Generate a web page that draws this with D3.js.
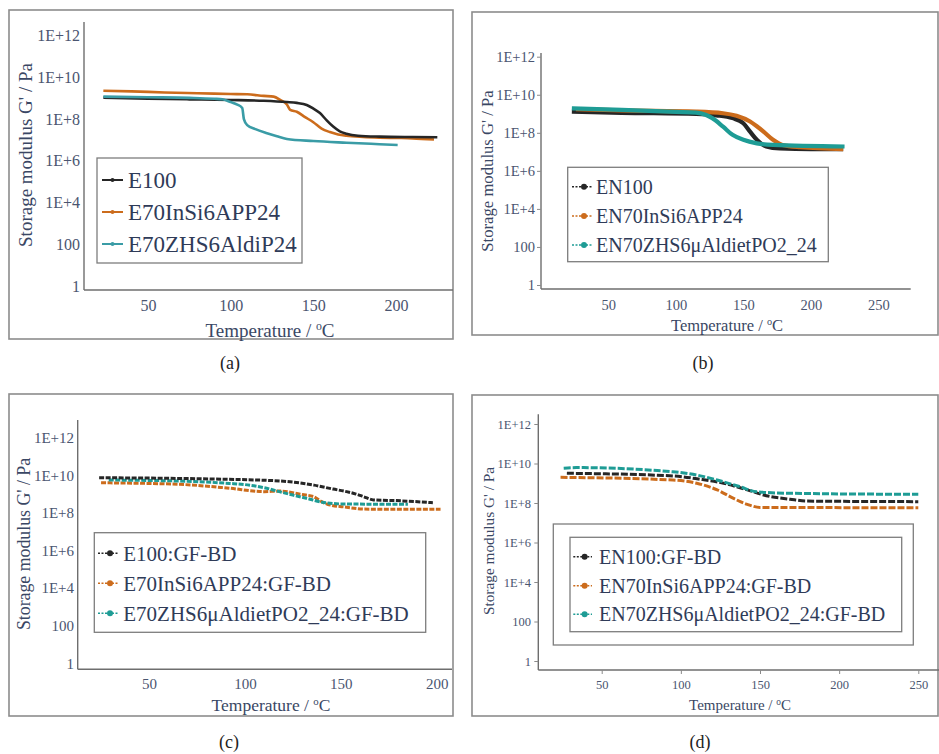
<!DOCTYPE html>
<html><head><meta charset="utf-8">
<script src="https://cdn.jsdelivr.net/npm/d3@7"></script>
<style>body{margin:0;background:#fff}svg{display:block}</style>
</head><body>
<svg id="chart" width="939" height="754"></svg>
<script>
// ---------- DATA ----------
const yTickValues = [1, 100, 1e4, 1e6, 1e8, 1e10, 1e12];
const yTickLabels = ["1", "100", "1E+4", "1E+6", "1E+8", "1E+10", "1E+12"];
const xTicksABC = [50, 100, 150, 200];
const xTicksBD = [50, 100, 150, 200, 250];

// (a)
const aNames = ["E100", "E70InSi6APP24", "E70ZHS6AldiP24"];
const aT_E100 = [23, 50, 75, 100, 120, 134, 140, 146, 150, 154, 158, 162, 166, 170, 177, 190, 210, 225];
const aG_E100 = [1.07e9, 9.5e8, 8.9e8, 8.3e8, 7.6e8, 6.6e8, 6.0e8, 4.8e8, 3.2e8, 1.95e8, 8.9e7, 4.4e7, 2.6e7, 2.0e7, 1.6e7, 1.45e7, 1.38e7, 1.35e7];
const aT_InSi = [23, 40, 60, 80, 100, 110, 120, 126, 130, 134, 136, 140, 145, 150, 155, 160, 165, 170, 180, 190, 200, 210, 223];
const aG_InSi = [2.3e9, 2.15e9, 1.9e9, 1.75e9, 1.6e9, 1.55e9, 1.3e9, 1.2e9, 8.3e8, 5.0e8, 2.8e8, 2.25e8, 1.25e8, 7.1e7, 3.5e7, 2.4e7, 1.85e7, 1.6e7, 1.4e7, 1.3e7, 1.25e7, 1.2e7, 1.05e7];
const aT_ZHS = [23, 50, 75, 90, 95, 100, 104, 107, 108, 110, 115, 122, 128, 134, 150, 170, 190, 201];
const aG_ZHS = [1.2e9, 1.12e9, 1.05e9, 9.5e8, 8.9e8, 6.6e8, 5.0e8, 3.4e8, 1.0e8, 5.2e7, 3.3e7, 2.1e7, 1.5e7, 1.12e7, 8.9e6, 7.4e6, 6.3e6, 5.8e6];

// (b)
const bNames = ["EN100", "EN70InSi6APP24", "EN70ZHS6μAldietPO2_24"];
const bT_EN100 = [23, 60, 115, 130, 142, 150, 155, 160, 167, 177, 200, 224];
const bG_EN100 = [1.3e9, 1.12e9, 9.8e8, 8.3e8, 5.9e8, 3.2e8, 1.15e8, 4.3e7, 1.9e7, 1.5e7, 1.4e7, 1.4e7];
const bT_InSi = [26, 60, 115, 135, 145, 155, 160, 165, 172, 179, 192, 224];
const bG_InSi = [1.75e9, 1.5e9, 1.3e9, 1.07e9, 7.8e8, 3.9e8, 2.2e8, 1.15e8, 4.3e7, 2.3e7, 1.75e7, 1.4e7];
const bT_ZHS = [23, 60, 100, 115, 122, 127, 135, 142, 150, 160, 172, 225];
const bG_ZHS = [1.95e9, 1.6e9, 1.25e9, 1.15e9, 8.9e8, 5.9e8, 2.1e8, 7.8e7, 4.3e7, 2.8e7, 2.3e7, 1.9e7];

// (c)
const cNames = ["E100:GF-BD", "E70InSi6APP24:GF-BD", "E70ZHS6μAldietPO2_24:GF-BD"];
const cT_E100 = [24, 50, 84, 118, 136, 146, 153, 158, 162, 167, 179, 198];
const cG_E100 = [7.4e9, 7.1e9, 6.3e9, 5.0e9, 3.0e9, 1.85e9, 1.35e9, 1.0e9, 7.2e8, 4.9e8, 4.5e8, 3.5e8];
const cT_InSi = [25, 66, 92, 110, 118, 130, 136, 140, 143, 153, 162, 180, 202];
const cG_InSi = [4.0e9, 3.3e9, 2.05e9, 1.35e9, 1.45e9, 9.5e8, 7.2e8, 4.0e8, 2.9e8, 2.0e8, 1.6e8, 1.55e8, 1.55e8];
const cT_ZHS = [29, 70, 92, 100, 110, 118, 125, 132, 141, 153, 185];
const cG_ZHS = [5.6e9, 4.8e9, 3.7e9, 3.2e9, 2.2e9, 1.35e9, 8.9e8, 6.0e8, 3.6e8, 2.95e8, 2.9e8];

// (d)
const dNames = ["EN100:GF-BD", "EN70InSi6APP24:GF-BD", "EN70ZHS6μAldietPO2_24:GF-BD"];
const dT_EN100 = [28, 95, 112, 127, 142, 154, 169, 180, 250];
const dG_EN100 = [3.2e9, 2.35e9, 1.6e9, 1.0e9, 4.6e8, 2.35e8, 1.55e8, 1.25e8, 1.17e8];
const dT_InSi = [24, 95, 110, 123, 133, 142, 150, 250];
const dG_InSi = [2.0e9, 1.45e9, 1.0e9, 4.6e8, 1.75e8, 8.5e7, 6.0e7, 5.75e7];
const dT_ZHS = [26, 34, 95, 110, 123, 137, 148, 169, 250];
const dG_ZHS = [5.8e9, 6.2e9, 3.8e9, 2.6e9, 1.45e9, 6.8e8, 3.7e8, 3.1e8, 2.75e8];

const panelLabels = ["(a)", "(b)", "(c)", "(d)"];

// ---------- STYLE ----------
const COL_BLACK = "#262626", COL_ORANGE = "#cc6c1c", COL_TEAL_A = "#3a9ca6", COL_TEAL = "#1e9c95";
const TXT = "#3a4764", TICKTXT = "#4a5570";
const FONT = "'Liberation Serif','DejaVu Serif',serif";

const svg = d3.select("#chart");

function zip(T, G) { return T.map((t, i) => ({ t: t, g: G[i] })); }

const panels = [
  { frame: [9, 10, 453, 339], axX: [84, 453], axY: [22, 290], xDom: [50, 200], xRng: [148, 396], yRng: [286, 35.7],
    xTicks: xTicksABC, tickFs: 16, tickLabX: 80, yTickLen: 0, xTickLen: 0, xLabY: 305,
    xTitle: [270, 330, 19], yTitle: [25, 155, 19],
    legend: { boxes: [[97, 158, 302, 263]], x0: 102, x1: 123, tx: 128, ys: [180, 212, 244], fs: 23, dotted: false, r: 2 },
    series: [[aT_InSi, aG_InSi, COL_ORANGE, 1], [aT_E100, aG_E100, COL_BLACK, 0], [aT_ZHS, aG_ZHS, COL_TEAL_A, 2]],
    names: aNames, colors: [COL_BLACK, COL_ORANGE, COL_TEAL_A], lw: 2.6, dash: null, lab: [230, 363] },
  { frame: [472, 12, 938, 335], axX: [541, 910.7], axY: [53, 289], xDom: [50, 250], xRng: [608.3, 878.3], yRng: [285, 56.7],
    xTicks: xTicksBD, tickFs: 14.5, tickLabX: 535, yTickLen: 4, xTickLen: 0, xLabY: 305,
    xTitle: [727, 325, 16.5], yTitle: [487, 171, 16.7],
    legend: { boxes: [[567.7, 167.3, 828.3, 261.7]], x0: 572, x1: 592, tx: 596, ys: [186.7, 216, 245], fs: 20, dotted: true, r: 3 },
    series: [[bT_EN100, bG_EN100, COL_BLACK, 0], [bT_InSi, bG_InSi, COL_ORANGE, 1], [bT_ZHS, bG_ZHS, COL_TEAL, 2]],
    names: bNames, colors: [COL_BLACK, COL_ORANGE, COL_TEAL], lw: 4.2, dash: null, lab: [703, 363] },
  { frame: [9, 394, 453, 716], axX: [77.7, 452], axY: [420, 669.3], xDom: [50, 200], xRng: [149, 436.7], yRng: [663.3, 437.7],
    xTicks: xTicksABC, tickFs: 15, tickLabX: 74, yTickLen: 0, xTickLen: 0, xLabY: 683.3,
    xTitle: [271, 705, 17.5], yTitle: [23.3, 544, 17.8],
    legend: { boxes: [[94.3, 532.7, 425.7, 632.3]], x0: 98, x1: 118, tx: 123.3, ys: [553.3, 583.3, 613.3], fs: 21, dotted: true, r: 3 },
    series: [[cT_InSi, cG_InSi, COL_ORANGE, 1], [cT_ZHS, cG_ZHS, COL_TEAL, 2], [cT_E100, cG_E100, COL_BLACK, 0]],
    names: cNames, colors: [COL_BLACK, COL_ORANGE, COL_TEAL], lw: 3, dash: "5,1.5", lab: [229, 742] },
  { frame: [472, 395, 938, 716], axX: [538.3, 939], axY: [414.3, 670], xDom: [50, 250], xRng: [601.7, 918.3], yRng: [661, 424],
    xTicks: xTicksBD, tickFs: 12.5, tickLabX: 531, yTickLen: 4, xTickLen: 4, xLabY: 685,
    xTitle: [740, 705, 15], yTitle: [488.3, 541, 15.3],
    legend: { boxes: [[553.3, 524, 913.3, 645], [570, 537.3, 901.7, 631.7]], x0: 573.3, x1: 592, tx: 599, ys: [556.7, 585.7, 614.3], fs: 20, dotted: true, r: 3 },
    series: [[dT_InSi, dG_InSi, COL_ORANGE, 1], [dT_EN100, dG_EN100, COL_BLACK, 0], [dT_ZHS, dG_ZHS, COL_TEAL, 2]],
    names: dNames, colors: [COL_BLACK, COL_ORANGE, COL_TEAL], lw: 3, dash: "7,2", lab: [700, 742] }
];

panels.forEach((p, pi) => {
  const g = svg.append("g");
  const f = p.frame;
  g.append("rect").attr("x", f[0]).attr("y", f[1]).attr("width", f[2] - f[0]).attr("height", f[3] - f[1])
    .attr("fill", "none").attr("stroke", "#8c8c8c").attr("stroke-width", 1.6);

  const x = d3.scaleLinear().domain(p.xDom).range(p.xRng);
  const y = d3.scaleLog().domain([1, 1e12]).range(p.yRng);

  // axis lines
  g.append("line").attr("x1", p.axX[0]).attr("x2", p.axX[0]).attr("y1", p.axY[0]).attr("y2", p.axY[1])
    .attr("stroke", "#6e6e6e").attr("stroke-width", 1.4);
  g.append("line").attr("x1", p.axX[0]).attr("x2", p.axX[1]).attr("y1", p.axY[1]).attr("y2", p.axY[1])
    .attr("stroke", "#6e6e6e").attr("stroke-width", 1.4);

  // y axis ticks
  const yAxis = d3.axisLeft(y).tickValues(yTickValues).tickFormat((d, i) => yTickLabels[i])
    .tickSize(p.yTickLen).tickPadding(p.axX[0] - p.tickLabX - p.yTickLen);
  const ya = g.append("g").attr("transform", `translate(${p.axX[0]},0)`).call(yAxis);
  ya.select(".domain").remove();
  ya.selectAll("line").attr("stroke", "#8a8a8a");
  ya.selectAll("text").attr("font-family", FONT).attr("font-size", p.tickFs).attr("fill", TICKTXT);

  // x axis ticks
  const xAxis = d3.axisBottom(x).tickValues(p.xTicks).tickFormat(d3.format("d"))
    .tickSize(p.xTickLen).tickPadding(0);
  const xa = g.append("g").attr("transform", `translate(0,${p.axY[1]})`).call(xAxis);
  xa.select(".domain").remove();
  xa.selectAll("line").attr("stroke", "#8a8a8a");
  xa.selectAll("text").attr("font-family", FONT).attr("font-size", p.tickFs).attr("fill", TICKTXT)
    .attr("y", p.xLabY - p.axY[1]).attr("dy", "0.35em");

  // titles
  const xt = g.append("text").attr("x", p.xTitle[0]).attr("y", p.xTitle[1]).attr("dy", "0.35em")
    .attr("text-anchor", "middle").attr("font-family", FONT).attr("font-size", p.xTitle[2]).attr("fill", TXT);
  xt.append("tspan").text("Temperature / ");
  xt.append("tspan").attr("font-size", p.xTitle[2] * 0.62).attr("dy", "-0.55em").text("o");
  xt.append("tspan").attr("dy", (p.xTitle[2] * 0.34) + "px").text("C");

  g.append("text").attr("transform", `translate(${p.yTitle[0]},${p.yTitle[1]}) rotate(-90)`).attr("dy", "0.35em")
    .attr("text-anchor", "middle").attr("font-family", FONT).attr("font-size", p.yTitle[2]).attr("fill", TXT)
    .text("Storage modulus G' / Pa");

  // series
  const line = d3.line().x(d => x(d.t)).y(d => y(d.g)).curve(d3.curveMonotoneX);
  p.series.forEach(s => {
    const path = g.append("path").datum(zip(s[0], s[1])).attr("d", line).attr("fill", "none")
      .attr("stroke", s[2]).attr("stroke-width", p.lw).attr("stroke-linejoin", "round");
    if (p.dash) path.attr("stroke-dasharray", p.dash);
  });

  // legend
  const L = p.legend;
  L.boxes.forEach(b => {
    g.append("rect").attr("x", b[0]).attr("y", b[1]).attr("width", b[2] - b[0]).attr("height", b[3] - b[1])
      .attr("fill", "#fff").attr("stroke", "#7d7d7d").attr("stroke-width", 1.3);
  });
  p.names.forEach((nm, i) => {
    const yy = L.ys[i];
    const ln = g.append("line").attr("x1", L.x0).attr("x2", L.x1).attr("y1", yy).attr("y2", yy)
      .attr("stroke", p.colors[i]).attr("stroke-width", L.dotted ? 1.6 : 2);
    if (L.dotted) ln.attr("stroke-dasharray", "2,1.5");
    g.append("circle").attr("cx", (L.x0 + L.x1) / 2 + (L.dotted ? 2 : 0)).attr("cy", yy).attr("r", L.r).attr("fill", p.colors[i]);
    g.append("text").attr("x", L.tx).attr("y", yy).attr("dy", "0.35em").attr("font-family", FONT)
      .attr("font-size", L.fs).attr("fill", "#2f3b58").text(nm);
  });

  svg.append("text").attr("x", p.lab[0]).attr("y", p.lab[1]).attr("dy", "0.35em").attr("text-anchor", "middle")
    .attr("font-family", FONT).attr("font-size", 18).attr("fill", "#222").text(panelLabels[pi]);
});
</script>
</body></html>
